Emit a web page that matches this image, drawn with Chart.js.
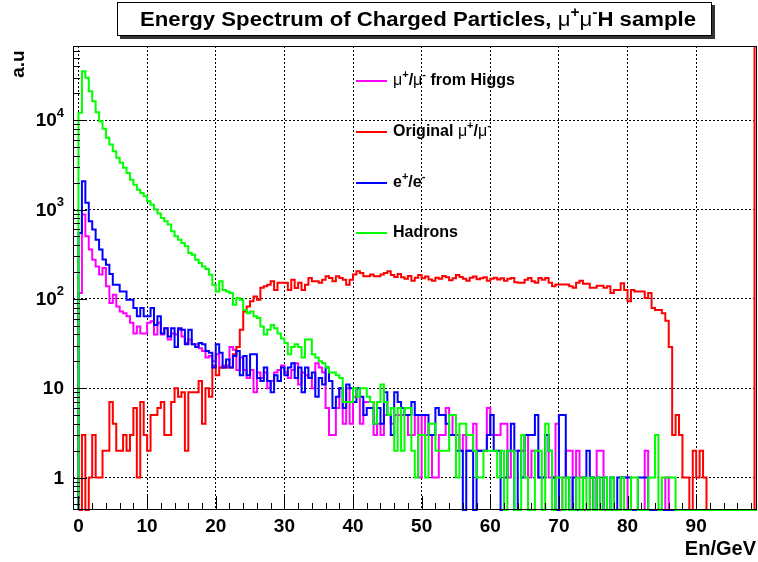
<!DOCTYPE html>
<html>
<head>
<meta charset="utf-8">
<script src="https://cdn.jsdelivr.net/npm/chart.js@4.4.1/dist/chart.umd.min.js"></script>
<style>
  html, body { margin: 0; padding: 0; background: #fff; }
  #spectrum { display: block; }
</style>
</head>
<body>
<canvas id="spectrum" width="758" height="562"></canvas>
<script>
// Histogram bins: 0.5 GeV wide, starting at 0 GeV
const binWidth = 0.5;

// mu+/mu- from Higgs (magenta)
const higgsMu = [
  116, 879, 501, 356, 274, 231, 187, 222, 138, 90,
  111, 82, 72, 69, 64, 54, 41, 49, 41, 41,
  54, 56, 40, 54, 40, 47, 35, 41, 40, 45,
  38, 32, 35, 31, 31, 28, 26, 22, 23, 20,
  24, 17, 18, 18, 29, 27, 16, 22, 16, 13,
  16, 9, 15, 13, 15, 10, 12, 15, 16, 18,
  15, 13, 16, 19, 11, 15, 14, 13, 10, 19,
  17, 15, 6, 3, 3, 6, 10, 4, 10, 4,
  8, 10, 4, 7, 7, 7, 3, 4, 3, 5,
  5, 4, 5, 5, 5, 5, 3, 3, 5, 1,
  5, 3, 3, 1, 1, 3, 3, 6, 5, 3,
  3, 2, 3, 2, 2, 4, 2, 2, 2, 6,
  3, 3, 3, 4, 4, 1, 2, 2, 2, 2,
  3, 1, 2, 2, 1, 1, 3, 1, 1, 4,
  0, 1, 2, 2, 0, 2, 1, 0, 0, 1,
  0, 2, 2, 0, 0, 0, 0, 0, 1, 1,
  0, 0, 0, 0, 0, 2, 0, 0, 0, 0,
  0, 1, 0, 0, 0, 0, 0, 0, 0, 0,
  0, 0, 0, 0, 0, 0, 0, 0, 0, 0,
  0, 0, 0, 0, 0, 0, 0, 0
];

// Original mu+/mu- (red)
const originalMu = [
  0, 3, 0, 1, 3, 1, 1, 2, 2, 7,
  4, 2, 2, 3, 2, 3, 6, 1, 7, 3,
  2, 5, 5, 6, 7, 3, 3, 7, 10, 8,
  9, 2, 9, 9, 9, 12, 4, 10, 8, 18,
  14, 17, 17, 17, 17, 24, 29, 45, 72, 82,
  94, 106, 98, 133, 138, 144, 157, 126, 151, 151,
  151, 126, 164, 132, 151, 126, 144, 171, 157, 157,
  151, 164, 179, 171, 157, 179, 171, 164, 144, 164,
  187, 204, 195, 179, 179, 187, 179, 179, 187, 195,
  204, 185, 176, 190, 175, 168, 180, 160, 172, 185,
  170, 178, 165, 160, 172, 168, 180, 175, 162, 170,
  185, 176, 168, 160, 172, 178, 166, 170, 175, 160,
  168, 172, 165, 170, 160, 168, 171, 153, 151, 151,
  164, 171, 157, 151, 171, 164, 171, 151, 138, 145,
  145, 145, 145, 138, 133, 151, 160, 148, 148, 133,
  133, 140, 140, 133, 138, 116, 126, 126, 150, 126,
  94, 126, 121, 121, 121, 102, 116, 79, 75, 75,
  69, 57, 29, 3, 5, 3, 1, 1, 0, 2,
  1, 2, 1, 0, 0, 0, 0, 0, 0, 0,
  0, 0, 0, 0, 0, 0, 0, 100000
];

// e+/e- (blue)
const electrons = [
  546, 2076, 1190, 740, 596, 460, 356, 275, 241, 190,
  144, 144, 121, 121, 98, 98, 79, 64, 79, 64,
  64, 79, 51, 64, 41, 47, 38, 47, 29, 47,
  45, 31, 45, 31, 29, 32, 31, 26, 25, 17,
  31, 25, 17, 21, 17, 23, 26, 14, 23, 14,
  24, 24, 13, 12, 17, 12, 9, 14, 12, 17,
  14, 17, 19, 13, 17, 9, 17, 13, 15, 8,
  13, 11, 17, 12, 6, 8, 10, 6, 11, 10,
  7, 10, 8, 5, 6, 6, 4, 6, 4, 9,
  5, 3, 9, 7, 6, 5, 5, 7, 5, 5,
  5, 5, 3, 3, 6, 5, 5, 4, 3, 3,
  2, 2, 0, 2, 2, 0, 2, 2, 2, 3,
  5, 2, 2, 0, 1, 2, 4, 0, 2, 1,
  3, 3, 3, 5, 1, 1, 3, 2, 1, 0,
  5, 5, 1, 0, 1, 0, 0, 1, 2, 1,
  0, 1, 0, 1, 0, 1, 0, 1, 1, 1,
  1, 0, 0, 1, 1, 1, 0, 0, 0, 0,
  0, 0, 0, 0, 0, 0, 0, 0, 0, 0,
  0, 0, 0, 0, 0, 0, 0, 0, 0, 0,
  0, 0, 0, 0, 0, 0, 0, 0
];

// Hadrons (green)
const hadrons = [
  12100, 35300, 29900, 21100, 16300, 12300, 9740, 8020, 6360, 5340,
  4490, 3790, 3330, 2930, 2570, 2160, 1900, 1670, 1530, 1410,
  1240, 1130, 998, 900, 805, 738, 678, 570, 501, 460,
  422, 387, 326, 312, 274, 252, 231, 216, 186, 144,
  121, 157, 126, 121, 116, 86, 102, 98, 75, 69,
  72, 64, 61, 49, 40, 45, 51, 47, 41, 36,
  32, 24, 29, 31, 29, 22, 35, 35, 24, 22,
  20, 19, 17, 15, 15, 14, 13, 7, 7, 7,
  10, 8, 10, 10, 8, 7, 4, 7, 11, 7,
  5, 6, 2, 6, 2, 6, 6, 2, 1, 3,
  3, 1, 4, 4, 2, 2, 2, 2, 5, 5,
  1, 4, 4, 3, 3, 2, 1, 1, 2, 2,
  2, 2, 1, 2, 0, 2, 2, 0, 0, 3,
  1, 0, 0, 2, 2, 0, 4, 2, 0, 1,
  1, 0, 1, 0, 0, 1, 0, 1, 0, 1,
  0, 1, 0, 1, 0, 1, 0, 0, 1, 0,
  0, 1, 1, 0, 0, 0, 1, 1, 3, 0,
  1, 1, 1, 1, 0, 0, 0, 0, 0, 0,
  0, 0, 0, 0, 0, 0, 0, 0, 0, 0,
  0, 0, 0, 0, 0, 0, 0, 0
];

// Axis ranges and labelled ticks
const xMin = -0.8, xMax = 98.86;
const yMin = 0.433, yMax = 67700;
const xTicks = [0, 10, 20, 30, 40, 50, 60, 70, 80, 90];
const yTicks = [1, 10, 100, 1000, 10000];

const FONT = '"Liberation Sans", Arial, Helvetica, sans-serif';
const bold = s => `bold ${s}px ${FONT}`;
const plain = s => `${s}px ${FONT}`;

// Turn bin contents into step points; empty bins sit on the bottom of the frame
function histPoints(values) {
  const pts = [{ x: 0, y: yMin }];
  values.forEach((v, i) => pts.push({ x: i * binWidth, y: v > 0 ? v : yMin }));
  pts.push({ x: values.length * binWidth, y: yMin });
  return pts;
}

// Text made of pieces (bold words, plain mu, superscripts)
function drawRich(ctx, parts, x, y, align, fitWidth) {
  let total = 0;
  parts.forEach(p => { ctx.font = p.f; p.w = ctx.measureText(p.t).width; total += p.w; });
  const sx = fitWidth ? fitWidth / total : 1;
  ctx.save();
  ctx.translate(x, y);
  ctx.scale(sx, 1);
  let cx = align === 'center' ? -total / 2 : align === 'right' ? -total : 0;
  ctx.textAlign = 'left';
  ctx.textBaseline = 'middle';
  parts.forEach(p => { ctx.font = p.f; ctx.fillText(p.t, cx, p.dy || 0); cx += p.w; });
  ctx.restore();
}

const mu = s => ({ t: 'μ', f: plain(s) });
const sup = (t, s) => ({ t: t, f: bold(Math.round(s * 0.68)), dy: -Math.round(s * 0.36) });

const legendItems = [
  { color: '#ff00ff', y: 81, parts: [mu(16), sup('+', 16), { t: '/', f: bold(16) }, mu(16), sup('-', 16), { t: ' from Higgs', f: bold(16) }] },
  { color: '#ff0000', y: 132, parts: [{ t: 'Original ', f: bold(16) }, mu(16), sup('+', 16), { t: '/', f: bold(16) }, mu(16), sup('-', 16)] },
  { color: '#0000ff', y: 183, parts: [{ t: 'e', f: bold(16) }, sup('+', 16), { t: '/e', f: bold(16) }, sup('-', 16)] },
  { color: '#00ff00', y: 233, parts: [{ t: 'Hadrons', f: bold(16) }] }
];

// ROOT-like decorations: inner ticks, frame, title box, legend, axis titles
const rootStyle = {
  id: 'rootStyle',
  afterDatasetsDraw(chart) {
    const { ctx, chartArea: a, scales: { x, y } } = chart;
    ctx.save();
    ctx.strokeStyle = '#000';
    ctx.lineWidth = 1;
    ctx.beginPath();
    for (let v = 0; v <= xMax; v += 2) {
      const px = Math.round(x.getPixelForValue(v)) + 0.5;
      const len = v % 10 === 0 ? 14 : 7;
      ctx.moveTo(px, a.bottom);
      ctx.lineTo(px, a.bottom - len);
    }
    for (let d = -1; d <= 4; d++) {
      for (let m = 1; m <= 9; m++) {
        const v = m * Math.pow(10, d);
        if (v < yMin || v > yMax) continue;
        const py = Math.round(y.getPixelForValue(v)) + 0.5;
        ctx.moveTo(a.left, py);
        ctx.lineTo(a.left + (m === 1 ? 14 : 7), py);
      }
    }
    ctx.stroke();
    ctx.strokeRect(a.left + 0.5, a.top + 0.5, a.right - a.left - 1, a.bottom - a.top - 1);
    ctx.restore();
  },
  afterDraw(chart) {
    const { ctx, scales: { y } } = chart;
    ctx.save();
    ctx.fillStyle = '#000';

    // y tick labels with exponents
    yTicks.forEach(v => {
      const py = y.getPixelForValue(v);
      const e = Math.round(Math.log10(v));
      const parts = e < 2 ? [{ t: String(v), f: bold(19) }]
        : [{ t: '10', f: bold(19) }, { t: String(e), f: bold(13), dy: -8 }];
      drawRich(ctx, parts, 64, py + 1, 'right');
    });

    // axis titles
    drawRich(ctx, [{ t: 'En/GeV', f: bold(20) }], 756, 549, 'right');
    ctx.save();
    ctx.translate(19, 64);
    ctx.rotate(-Math.PI / 2);
    drawRich(ctx, [{ t: 'a.u', f: bold(19) }], 0, 0, 'center');
    ctx.restore();

    // title box with shadow
    ctx.fillStyle = '#333';
    ctx.fillRect(120, 5, 595, 34);
    ctx.fillStyle = '#fff';
    ctx.fillRect(117, 2, 595, 34);
    ctx.strokeStyle = '#000';
    ctx.lineWidth = 1;
    ctx.strokeRect(117.5, 2.5, 594, 33);
    ctx.fillStyle = '#000';
    drawRich(ctx, [
      { t: 'Energy Spectrum of Charged Particles, ', f: bold(20) },
      mu(20), sup('+', 20), mu(20), sup('-', 20),
      { t: 'H sample', f: bold(20) }
    ], 418, 20, 'center', 556);

    // legend
    legendItems.forEach(item => {
      ctx.strokeStyle = item.color;
      ctx.lineWidth = 2;
      ctx.beginPath();
      ctx.moveTo(356, item.y);
      ctx.lineTo(387, item.y);
      ctx.stroke();
      ctx.fillStyle = '#000';
      drawRich(ctx, item.parts, 393, item.y, 'left');
    });
    ctx.restore();
  }
};

const histDataset = (label, values, color, order) => ({
  label: label,
  data: histPoints(values),
  borderColor: color,
  backgroundColor: color,
  borderWidth: 2,
  pointRadius: 0,
  stepped: 'before',
  fill: false,
  order: order,
  clip: { left: 0, top: 0, right: 0, bottom: 1 }
});

document.addEventListener('DOMContentLoaded', () => {
  const ctx = document.getElementById('spectrum').getContext('2d');
  new Chart(ctx, {
    type: 'line',
    data: {
      datasets: [
        histDataset('μ+/μ- from Higgs', higgsMu, '#ff00ff', 4),
        histDataset('Original μ+/μ-', originalMu, '#ff0000', 3),
        histDataset('e+/e-', electrons, '#0000ff', 2),
        histDataset('Hadrons', hadrons, '#00ff00', 1)
      ]
    },
    options: {
      responsive: false,
      animation: false,
      devicePixelRatio: 1,
      layout: { padding: { top: 46, right: 1, left: 0, bottom: 0 } },
      plugins: {
        legend: { display: false },
        tooltip: { enabled: false }
      },
      scales: {
        x: {
          type: 'linear',
          min: xMin,
          max: xMax,
          bounds: 'data',
          afterBuildTicks: s => { s.ticks = xTicks.map(v => ({ value: v })); },
          afterFit: s => { s.height = 52; },
          grid: { color: '#000', lineWidth: 1, drawTicks: false },
          border: { display: false, dash: [2, 2] },
          ticks: {
            color: '#000',
            font: { family: FONT, size: 19, weight: 'bold' },
            padding: 5,
            maxRotation: 0,
            autoSkip: false
          }
        },
        y: {
          type: 'logarithmic',
          min: yMin,
          max: yMax,
          bounds: 'data',
          afterBuildTicks: s => { s.ticks = yTicks.map(v => ({ value: v })); },
          afterFit: s => { s.width = 73; },
          grid: { color: '#000', lineWidth: 1, drawTicks: false },
          border: { display: false, dash: [2, 2] },
          ticks: { display: false }
        }
      }
    },
    plugins: [rootStyle]
  });
});
</script>
</body>
</html>
